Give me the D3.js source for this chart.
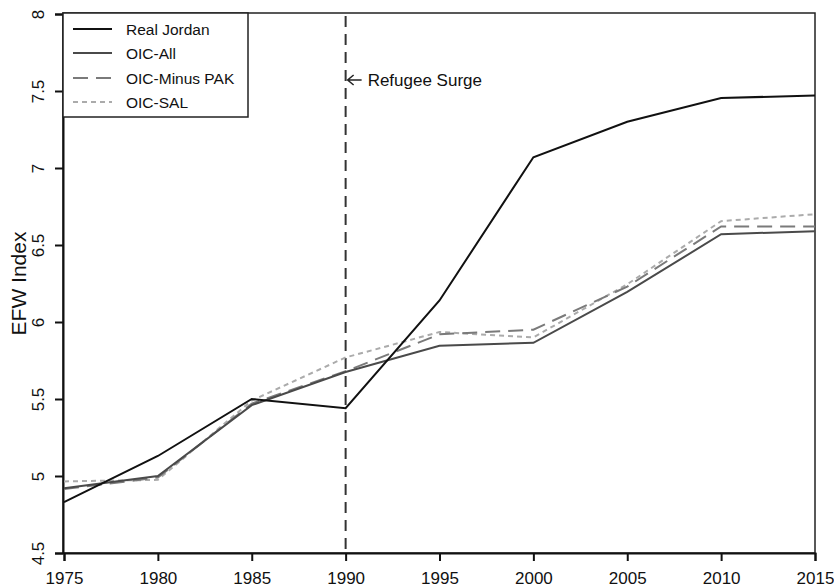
<!DOCTYPE html>
<html>
<head>
<meta charset="utf-8">
<script src="https://cdn.jsdelivr.net/npm/d3@7/dist/d3.min.js"></script>
<style>
  body { margin: 0; background: #fff; }
  svg { display: block; font-family: "Liberation Sans", Arial, Helvetica, sans-serif; }
</style>
</head>
<body>
<div id="chart"></div>
<script>
// data
var years = [1975, 1980, 1985, 1990, 1995, 2000, 2005, 2010, 2015];
var realJordan   = [4.83, 5.13, 5.50, 5.44, 6.14, 7.07, 7.30, 7.455, 7.47];
var oicAll       = [4.92, 5.00, 5.46, 5.675, 5.845, 5.865, 6.195, 6.57, 6.59];
var oicMinusPak  = [4.915, 4.99, 5.47, 5.68, 5.92, 5.95, 6.23, 6.62, 6.62];
var oicSal       = [4.965, 4.975, 5.49, 5.77, 5.935, 5.90, 6.245, 6.655, 6.70];
var yTicks = [4.5, 5, 5.5, 6, 6.5, 7, 7.5, 8];
var surgeYear = 1990;

var series = [
  { name: "Real Jordan",    values: realJordan,  color: "#111", dash: null },
  { name: "OIC-All",        values: oicAll,      color: "#4a4a4a", dash: null },
  { name: "OIC-Minus PAK",  values: oicMinusPak, color: "#7a7a7a", dash: "15,8" },
  { name: "OIC-SAL",        values: oicSal,      color: "#ababab", dash: "5,4" }
];

var width = 834, height = 588;
var margin = { left: 63, right: 19, top: 14, bottom: 35 };

var svg = d3.select("#chart").append("svg")
    .attr("width", width)
    .attr("height", height);

var x = d3.scaleLinear().domain([1975, 2015]).range([margin.left + 1, width - margin.right]);
var y = d3.scaleLinear().domain([4.5, 8]).range([height - margin.bottom, margin.top]);

// frame
svg.append("rect")
    .attr("x", x(1975) - 1).attr("y", y(8) - 1)
    .attr("width", x(2015) - x(1975) + 1)
    .attr("height", y(4.5) - y(8) + 1)
    .attr("fill", "none")
    .attr("stroke", "#222")
    .attr("stroke-width", 1.5);

// x axis
var xAxis = svg.append("g")
    .attr("transform", "translate(0," + y(4.5) + ")")
    .call(d3.axisBottom(x).tickValues(years).tickSize(8).tickPadding(11).tickFormat(d3.format("d")));
xAxis.select(".domain").attr("stroke", "#111").attr("stroke-width", 2);
xAxis.selectAll(".tick line").attr("stroke", "#111").attr("stroke-width", 2);
xAxis.selectAll("text").attr("font-size", "17px").attr("fill", "#111").style("font-family", "inherit");

// y axis
var yAxis = svg.append("g")
    .attr("transform", "translate(" + (x(1975) - 1) + ",0)")
    .call(d3.axisLeft(y).tickValues(yTicks).tickSize(8).tickFormat(d3.format("")));
yAxis.select(".domain").attr("stroke", "#111").attr("stroke-width", 2);
yAxis.selectAll(".tick line").attr("stroke", "#111").attr("stroke-width", 2);
yAxis.selectAll("text")
    .attr("x", 0).attr("y", 0).attr("dy", 0)
    .attr("transform", "translate(-19,0) rotate(-90)")
    .attr("text-anchor", "middle")
    .attr("font-size", "17px").attr("fill", "#111").style("font-family", "inherit");

svg.append("text")
    .attr("transform", "translate(26," + ((y(8) + y(4.5)) / 2) + ") rotate(-90)")
    .attr("text-anchor", "middle")
    .attr("font-size", "21px")
    .attr("fill", "#111")
    .text("EFW Index");

// refugee surge marker
svg.append("line")
    .attr("x1", x(surgeYear)).attr("x2", x(surgeYear))
    .attr("y1", y(8) + 2).attr("y2", y(4.5))
    .attr("stroke", "#333")
    .attr("stroke-width", 2)
    .attr("stroke-dasharray", "11,7");

var ay = 80;
svg.append("path")
    .attr("d", "M" + (x(surgeYear) + 16) + "," + ay + "H" + (x(surgeYear) + 2) +
               "M" + (x(surgeYear) + 8) + "," + (ay - 5) + "L" + (x(surgeYear) + 2) + "," + ay +
               "L" + (x(surgeYear) + 8) + "," + (ay + 5))
    .attr("fill", "none")
    .attr("stroke", "#222")
    .attr("stroke-width", 1.5);
svg.append("text")
    .attr("x", x(surgeYear) + 22).attr("y", ay + 6)
    .attr("font-size", "17px")
    .attr("fill", "#111")
    .text("Refugee Surge");

// lines
var line = d3.line()
    .x(function(d, i) { return x(years[i]); })
    .y(function(d) { return y(d); });

series.slice().reverse().forEach(function(s) {
  svg.append("path")
      .datum(s.values)
      .attr("d", line)
      .attr("fill", "none")
      .attr("stroke", s.color)
      .attr("stroke-width", 2)
      .attr("stroke-dasharray", s.dash);
});

// legend
var legend = svg.append("g");
legend.append("rect")
    .attr("x", x(1975) - 1).attr("y", y(8) - 1)
    .attr("width", 185).attr("height", 104)
    .attr("fill", "#fff")
    .attr("stroke", "#222")
    .attr("stroke-width", 1.5);

var rows = [29, 53, 78, 102];
series.forEach(function(s, i) {
  legend.append("line")
      .attr("x1", 73).attr("x2", 112)
      .attr("y1", rows[i]).attr("y2", rows[i])
      .attr("stroke", s.color)
      .attr("stroke-width", 2)
      .attr("stroke-dasharray", s.dash);
  legend.append("text")
      .attr("x", 126).attr("y", rows[i])
      .attr("dy", "0.36em")
      .attr("font-size", "15.5px")
      .attr("fill", "#111")
      .text(s.name);
});
</script>
</body>
</html>
